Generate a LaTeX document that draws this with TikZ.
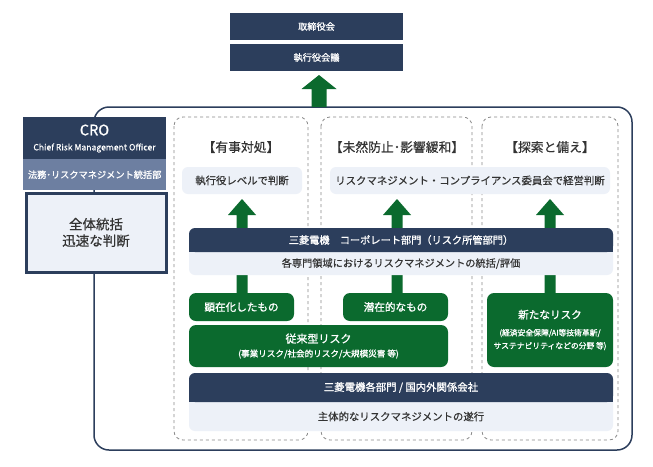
\documentclass[tikz,border=0pt]{standalone}
\usepackage{fontspec}
\setmainfont{Noto Sans CJK JP}[FakeBold=0.4]
\newfontfamily\medf{Noto Sans CJK JP}[FakeBold=1.1]
\definecolor{navy}{HTML}{2C3E5C}
\definecolor{midblue}{HTML}{6D7FA1}
\definecolor{lightbg}{HTML}{EDF1F8}
\definecolor{mgreen}{HTML}{0B6A2E}
\definecolor{txt}{HTML}{333333}
\definecolor{dashgray}{HTML}{8A8A8A}
\newcommand{\fsz}[1]{\fontsize{#1}{#1}\selectfont}
\tikzset{
  navybox/.style={fill=navy, text=white, inner sep=0pt, font=\medf},
  lightbox/.style={fill=lightbg, text=txt, rounded corners=6pt, inner sep=0pt},
  greenbox/.style={fill=mgreen, text=white, rounded corners=7pt, inner sep=0pt, align=center, font=\medf},
  colbox/.style={draw=dashgray, dashed, line width=0.8pt, rounded corners=9pt},
  heading/.style={text=txt, inner sep=0pt},
  whitetext/.style={text=white, inner sep=0pt, font=\medf},
  garrow/.style={fill=mgreen},
}
\begin{document}
\begin{tikzpicture}[x=1pt,y=-1pt]
\useasboundingbox (0,0) rectangle (653,466);
\fill[white] (0,0) rectangle (653,466);

% top boxes
\node[navybox, minimum width=173pt, minimum height=27pt] (board) at (316.5,26.5) {\fsz{9.2}取締役会};
\node[navybox, minimum width=173pt, minimum height=27pt] (exec) at (316.5,57.5) {\fsz{9.2}執行役会議};

% big frame
\draw[navy, line width=1.5pt, rounded corners=15pt] (94,107) rectangle (632,450);
\coordinate (frametop) at (319,107);

% top arrow
\fill[garrow] (frametop) ++(-7.5,0) -- ++(0,-18) -- ++(-10,0) -- (319,75) -- (336.5,89) -- (326.5,89) -- (326.5,107) -- cycle;

% CRO block
\node[navybox, minimum width=143pt, minimum height=42pt, anchor=north west] (cro) at (23,117) {};
\node[whitetext] (crot) at (94.5,130) {\fsz{14.5}CRO};
\node[text=white, inner sep=0pt] (crosub) at (94.5,148) {\fsz{8.6}Chief Risk Management Officer};
\node[fill=midblue, text=white, font=\medf, minimum width=143pt, minimum height=31pt, inner sep=0pt, anchor=north west] (legal) at (23,159) {\fsz{9.2}法務･リスクマネジメント統括部};
\node[fill=lightbg, draw=navy, line width=3pt, minimum width=140pt, minimum height=79pt, inner sep=0pt, align=center, text=txt, anchor=north west] (overall) at (24.5,191.5) {\fsz{13.5}全体統括\\[3pt]\fsz{13.5}迅速な判断};

% dashed columns
\draw[colbox] (174,117) rectangle (308,440);
\draw[colbox] (321,117) rectangle (472,440);
\draw[colbox] (482,117) rectangle (618,440);

% headings
\node[heading] (h1) at (241,147) {\fsz{12.8}【有事対処】};
\node[heading] (h2) at (397,147) {\fsz{12.8}【未然防止･影響緩和】};
\node[heading] (h3) at (550,147) {\fsz{12.8}【探索と備え】};

% decision boxes
\node[lightbox, minimum width=120pt, minimum height=27pt] (d1) at (242,180.5) {\fsz{10.4}執行役レベルで判断};
\node[lightbox, minimum width=280pt, minimum height=27pt] (d2) at (470,180.5) {\fsz{10.4}リスクマネジメント・コンプライアンス委員会で経営判断};

% green arrows (behind bands)
\foreach \cx/\nm in {242/a1, 397/a2, 550/a3}{
  \fill[garrow] (\cx-5.5,295) -- (\cx-5.5,215) -- (\cx-14,215) -- (\cx,199) -- (\cx+14,215) -- (\cx+5.5,215) -- (\cx+5.5,295) -- cycle;
}

% corporate band
\fill[lightbg, rounded corners=6pt] (189,228) rectangle (613,275);
\fill[navy, rounded corners=6pt] (189,228) rectangle (613,252);
\fill[navy] (189,242) rectangle (613,252);
\node[whitetext] (corp) at (401,240) {\fsz{10.2}三菱電機　コーポレート部門（リスク所管部門）};
\node[text=txt, inner sep=0pt] (corpeval) at (401,263.5) {\fsz{10.2}各専門領域におけるリスクマネジメントの統括/評価};

% green risk boxes
\node[greenbox, minimum width=105pt, minimum height=28pt] (g1) at (241.5,307) {\fsz{10.6}顕在化したもの};
\node[greenbox, minimum width=105pt, minimum height=28pt] (g2) at (395.5,307) {\fsz{10.6}潜在的なもの};
\node[greenbox, minimum width=259pt, minimum height=42pt] (g3) at (318.5,346) {\fsz{11}従来型リスク\\[2pt]\fsz{8.6}(事業リスク/社会的リスク/大規模災害 等)};
\node[greenbox, minimum width=126pt, minimum height=74pt] (g4) at (550,330) {\fsz{10.6}新たなリスク\\[5pt]\fsz{7.8}(経済安全保障/AI等技術革新/\\[1pt]\fsz{7.8}サステナビリティなどの分野 等)};

% bottom band
\fill[lightbg, rounded corners=6pt] (189,373) rectangle (613,431);
\fill[navy, rounded corners=6pt] (189,373) rectangle (613,402);
\fill[navy] (189,390) rectangle (613,402);
\node[whitetext] (depts) at (401,387.5) {\fsz{10.4}三菱電機各部門 / 国内外関係会社};
\node[text=txt, inner sep=0pt] (exec2) at (401,416.5) {\fsz{10.4}主体的なリスクマネジメントの遂行};
\end{tikzpicture}
\end{document}
